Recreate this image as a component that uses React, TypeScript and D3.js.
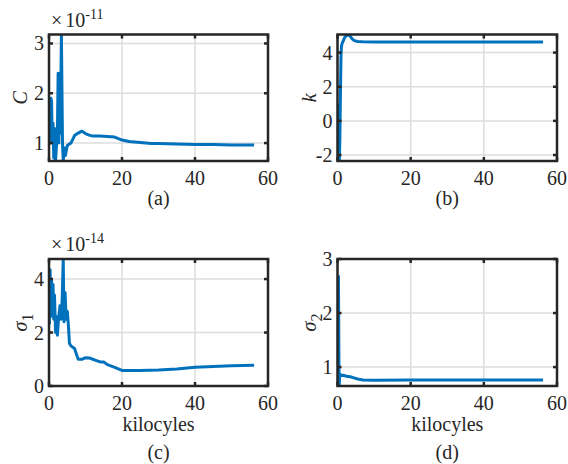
import * as d3 from "d3";

const FONT = "'Liberation Serif', 'Times New Roman', Times, 'DejaVu Serif', serif";
const BLUE = "#0072BD";
const AXIS = "#262626";
const GRID = "#dcdcdc";

// x axis is shared by all four panels (kilocycles)
const X_TICKS = [0, 20, 40, 60];

// (a) C, x10^-11
const cX = [0.1, 0.3, 0.5, 0.7, 0.9, 1.1, 1.3, 1.5, 1.8, 2.0, 2.3, 2.5, 2.7, 2.9, 3.1, 3.4, 3.7, 3.9, 4.2, 4.5, 5, 6, 7, 8, 9, 10, 11, 12, 14, 16, 18, 20, 22, 25, 28, 30, 35, 40, 45, 50, 56.2];
const cY = [1.5, 1.0, 1.9, 1.85, 1.0, 1.4, 0.7, 1.3, 0.64, 0.9, 1.2, 2.4, 1.0, 2.4, 1.2, 3.18, 1.0, 0.64, 0.9, 0.75, 0.95, 1.0, 1.15, 1.2, 1.24, 1.19, 1.16, 1.14, 1.14, 1.13, 1.12, 1.06, 1.03, 1.01, 0.99, 0.99, 0.98, 0.97, 0.97, 0.96, 0.96];
const cTicks = [1, 2, 3];

// (b) k
const kX = [0.2, 0.35, 0.5, 0.65, 0.8, 0.95, 1.1, 1.3, 1.6, 2.0, 2.5, 3.0, 3.5, 4.0, 4.6, 5.5, 7, 10, 20, 30, 40, 50, 56.2];
const kY = [1.0, 0.2, -2.35, -1.0, 1.5, 3.8, 4.4, 4.55, 4.7, 4.9, 5.0, 5.05, 4.95, 4.8, 4.7, 4.65, 4.63, 4.62, 4.62, 4.62, 4.62, 4.62, 4.62];
const kTicks = [-2, 0, 2, 4];

// (c) sigma_1, x10^-14
const s1X = [0.1, 0.3, 0.5, 0.7, 0.9, 1.1, 1.3, 1.5, 1.8, 2.0, 2.3, 2.6, 3.0, 3.3, 3.6, 3.9, 4.1, 4.4, 4.7, 5.0, 5.3, 5.6, 6, 7, 7.5, 8, 9, 10, 11, 12, 13, 14, 15, 16, 18, 20, 22, 25, 30, 35, 40, 45, 50, 56.2];
const s1Y = [2.3, 4.35, 3.0, 4.0, 2.6, 3.8, 2.5, 3.4, 2.0, 2.6, 1.9, 2.5, 3.0, 2.5, 3.2, 4.75, 2.4, 3.5, 2.5, 2.8, 2.3, 1.6, 1.5, 1.4, 1.2, 1.0, 1.0, 1.06, 1.05, 1.0, 0.95, 0.9, 0.9, 0.8, 0.7, 0.58, 0.58, 0.58, 0.6, 0.64, 0.7, 0.73, 0.76, 0.78];
const s1Ticks = [0, 2, 4];

// (d) sigma_2
const s2X = [0.25, 0.32, 0.4, 0.48, 0.56, 0.7, 0.9, 1.5, 2.5, 3.5, 4.5, 5.5, 7, 10, 20, 30, 40, 50, 56.2];
const s2Y = [2.7, 2.0, 1.0, 0.65, 0.8, 0.87, 0.84, 0.85, 0.83, 0.82, 0.8, 0.78, 0.76, 0.755, 0.76, 0.76, 0.76, 0.76, 0.76];
const s2Ticks = [1, 2, 3];

type PanelProps = {
  id: string;
  xs: number[];
  ys: number[];
  yDomain: [number, number];
  yTicks: number[];
  left: number;
  right: number;
  top: number;
  bottom: number;
  yLabel: any;
  exponent?: string;
  caption: string;
  xLabel?: boolean;
};

function Panel({ id, xs, ys, yDomain, yTicks, left, right, top, bottom, yLabel, exponent, caption, xLabel }: PanelProps) {
  const xScale = d3.scaleLinear().domain([0, 60]).range([left, right]);
  const yScale = d3.scaleLinear().domain(yDomain).range([bottom, top]);
  const pts: [number, number][] = xs.map((x, i) => [x, ys[i]]);
  const path = d3
    .line<[number, number]>()
    .x((d) => xScale(d[0]))
    .y((d) => yScale(d[1]))(pts);
  const midX = (left + right) / 2;
  const midY = (top + bottom) / 2;
  const TL = 4;

  return (
    <g style={{ fontFamily: FONT }}>
      <defs>
        <clipPath id={"clip-" + id}>
          <rect x={left} y={top} width={right - left} height={bottom - top} />
        </clipPath>
      </defs>
      {/* grid */}
      {X_TICKS.map((t) => (
        <line key={"gx" + t} x1={xScale(t)} x2={xScale(t)} y1={top} y2={bottom} stroke={GRID} strokeWidth={1.5} />
      ))}
      {yTicks.map((t) => (
        <line key={"gy" + t} x1={left} x2={right} y1={yScale(t)} y2={yScale(t)} stroke={GRID} strokeWidth={1.5} />
      ))}
      <path d={path ?? ""} fill="none" stroke={BLUE} strokeWidth={3} strokeLinejoin="round" clipPath={`url(#clip-${id})`} />
      {/* box + ticks */}
      <rect x={left} y={top} width={right - left} height={bottom - top} fill="none" stroke={AXIS} strokeWidth={2.5} />
      {X_TICKS.map((t) => (
        <g key={"tx" + t} stroke={AXIS} strokeWidth={2.5}>
          <line x1={xScale(t)} x2={xScale(t)} y1={bottom} y2={bottom - TL} />
          <line x1={xScale(t)} x2={xScale(t)} y1={top} y2={top + TL} />
        </g>
      ))}
      {yTicks.map((t) => (
        <g key={"ty" + t} stroke={AXIS} strokeWidth={2.5}>
          <line x1={left} x2={left + TL} y1={yScale(t)} y2={yScale(t)} />
          <line x1={right} x2={right - TL} y1={yScale(t)} y2={yScale(t)} />
        </g>
      ))}
      {/* tick labels */}
      {X_TICKS.map((t) => (
        <text key={"lx" + t} x={xScale(t)} y={bottom + 24} textAnchor="middle" fontSize={20} fill={AXIS}>
          {t}
        </text>
      ))}
      {yTicks.map((t) => (
        <text key={"ly" + t} x={left - 5} y={yScale(t) + 7} textAnchor="end" fontSize={20} fill={AXIS}>
          {t}
        </text>
      ))}
      {exponent && (
        <text x={left + 2} y={top - 8} fontSize={20} fill={AXIS}>
          {"\u00d7"}
          <tspan dx={3}>10</tspan>
          <tspan dy={-8} fontSize={14}>{exponent}</tspan>
        </text>
      )}
      <text transform={`translate(${left - 22},${midY}) rotate(-90)`} textAnchor="middle" fontSize={20} fill={AXIS}>
        {yLabel}
      </text>
      {xLabel && (
        <text x={midX} y={bottom + 45} textAnchor="middle" fontSize={20} fill={AXIS}>
          kilocyles
        </text>
      )}
      <text x={midX} y={xLabel ? bottom + 73 : bottom + 44} textAnchor="middle" fontSize={20} fill={AXIS}>
        {caption}
      </text>
    </g>
  );
}

export default function App() {
  return (
    <div style={{ position: "absolute", left: 0, top: 0 }}>
      <svg width={568} height={464} style={{ display: "block", background: "#fff" }}>
        <Panel
          id="a"
          xs={cX}
          ys={cY}
          yDomain={[0.64, 3.18]}
          yTicks={cTicks}
          left={49}
          right={268}
          top={34.5}
          bottom={161}
          yLabel={<tspan fontStyle="italic">C</tspan>}
          exponent="-11"
          caption="(a)"
        />
        <Panel
          id="b"
          xs={kX}
          ys={kY}
          yDomain={[-2.35, 5.06]}
          yTicks={kTicks}
          left={337.5}
          right={557}
          top={34.5}
          bottom={161}
          yLabel={<tspan fontStyle="italic">k</tspan>}
          caption="(b)"
        />
        <Panel
          id="c"
          xs={s1X}
          ys={s1Y}
          yDomain={[0, 4.75]}
          yTicks={s1Ticks}
          left={49}
          right={268}
          top={259}
          bottom={386}
          yLabel={
            <>
              <tspan fontStyle="italic">{"\u03c3"}</tspan>
              <tspan dy={6} fontSize={16}>1</tspan>
            </>
          }
          exponent="-14"
          caption="(c)"
          xLabel
        />
        <Panel
          id="d"
          xs={s2X}
          ys={s2Y}
          yDomain={[0.65, 3.0]}
          yTicks={s2Ticks}
          left={337.5}
          right={557}
          top={259}
          bottom={386}
          yLabel={
            <>
              <tspan fontStyle="italic">{"\u03c3"}</tspan>
              <tspan dy={6} fontSize={16}>2</tspan>
            </>
          }
          caption="(d)"
          xLabel
        />
      </svg>
    </div>
  );
}
